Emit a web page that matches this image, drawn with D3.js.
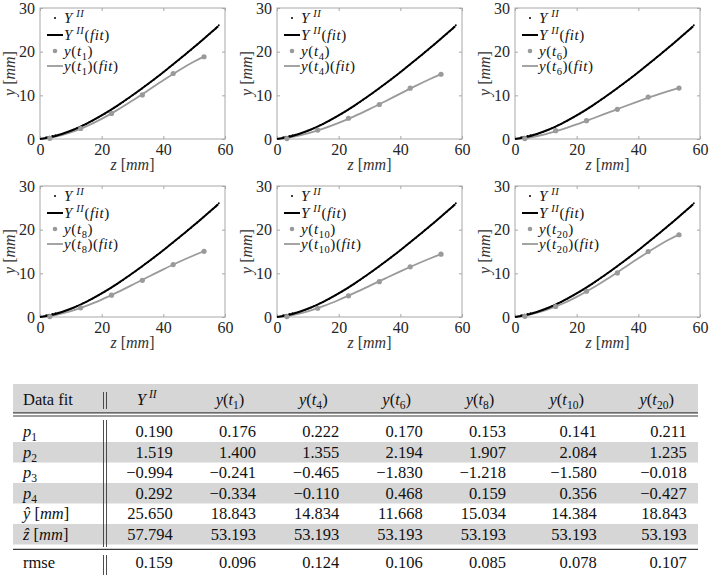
<!DOCTYPE html>
<html><head><meta charset="utf-8">
<script src="https://cdn.jsdelivr.net/npm/d3@7"></script>
<style>
body{margin:0;background:#fff;}
svg, svg text{font-family:"Liberation Serif","DejaVu Serif",serif;}
</style></head>
<body><svg id="c" width="709" height="578" font-family="Liberation Serif, DejaVu Serif, serif"></svg>
<script>
// ---------- DATA ----------
const xTicks = [0, 20, 40, 60];
const yTicks = [0, 10, 20, 30];

// Y^II measured points (black dots)
const yIIz = [2,2.5,3,3.5,4,4.5,5,5.5,6,7,8,9,10,11,12,13,14,15,16,17,18,19,20,21,22,23,24,25,26,27,28,29,30,31,32,33,34,35,36,37,38,39,40,41,42,43,44,45,46,47,48,49,50,51,52,53,54,55,56,57,57.5,58];
const yIIy = [0.40,0.35,0.55,0.50,0.72,0.65,0.90,0.85,1.02,1.15,1.40,1.60,1.92,2.15,2.50,2.78,3.16,3.45,3.86,4.19,4.63,4.98,5.42,5.80,6.28,6.67,7.17,7.58,8.09,8.52,9.05,9.49,10.04,10.48,11.05,11.52,12.10,12.56,13.16,13.63,14.24,14.72,15.33,15.84,16.46,16.96,17.60,18.10,18.76,19.27,19.92,20.44,21.10,21.64,22.31,22.84,23.52,24.06,24.74,25.30,25.70,26.05];

// Y^II fit curve
const fitIIz = [0,5,10,15,20,25,30,35,40,45,50,55,57.794];
const fitIIy = [0,0.70,1.88,3.48,5.40,7.60,10.01,12.59,15.30,18.13,21.07,24.09,25.83];

// y(t_k) sample positions (gray markers)
const markerZ = [3.193, 13.193, 23.193, 33.193, 43.193, 53.193];
const markT1  = [0.15, 2.40, 5.85, 10.10, 15.00, 18.84];
const markT4  = [0.10, 2.05, 4.75, 7.90, 11.65, 14.83];
const markT6  = [0.10, 1.90, 4.20, 6.80, 9.60, 11.67];
const markT8  = [0.10, 2.10, 5.00, 8.40, 12.00, 15.03];
const markT10 = [0.10, 2.00, 4.85, 8.10, 11.50, 14.38];
const markT20 = [0.15, 2.40, 5.90, 10.10, 15.00, 18.84];

// y(t_k) fit curves
const fitZ = [0,5,10,15,20,25,30,35,40,45,50,53.193];
const fitT1  = [0,0.54,1.52,2.89,4.61,6.61,8.81,11.13,13.47,15.71,17.74,18.86];
const fitT4  = [0,0.48,1.28,2.36,3.68,5.19,6.85,8.60,10.39,12.16,13.85,14.86];
const fitT6  = [0,0.40,1.14,2.15,3.34,4.64,5.98,7.33,8.63,9.87,11.01,11.69];
const fitT8  = [0,0.46,1.33,2.53,3.99,5.63,7.37,9.16,10.92,12.60,14.15,15.05];
const fitT10 = [0,0.44,1.30,2.48,3.90,5.47,7.12,8.80,10.45,12.03,13.52,14.40];
const fitT20 = [0,0.58,1.56,2.91,4.61,6.58,8.77,11.09,13.43,15.69,17.74,18.86];

const seriesSubs = ["1","4","6","8","10","20"];
const seriesMarks = [markT1, markT4, markT6, markT8, markT10, markT20];
const seriesFits = [fitT1, fitT4, fitT6, fitT8, fitT10, fitT20];

// table
const tableCols = ["YII","1","4","6","8","10","20"];
const p1 = [0.190, 0.176, 0.222, 0.170, 0.153, 0.141, 0.211];
const p2 = [1.519, 1.400, 1.355, 2.194, 1.907, 2.084, 1.235];
const p3 = [-0.994, -0.241, -0.465, -1.830, -1.218, -1.580, -0.018];
const p4 = [0.292, -0.334, -0.110, 0.468, 0.159, 0.356, -0.427];
const yHat = [25.650, 18.843, 14.834, 11.668, 15.034, 14.384, 18.843];
const zHat = [57.794, 53.193, 53.193, 53.193, 53.193, 53.193, 53.193];
const rmse = [0.159, 0.096, 0.124, 0.106, 0.085, 0.078, 0.107];

// ---------- DRAW ----------
const svg = d3.select("#c");
const FONT = "'Liberation Serif','DejaVu Serif',serif";
const GRAY = "#9a9a9a", AX = "#a8a8a8", TXT = "#262626";

function rich(t, parts, fs){
  t.attr("font-family", FONT);
  let shift = 0;
  parts.forEach(p=>{
    const ts = t.append("tspan").text(p.t);
    const target = p.sup ? -0.42*fs : p.sub ? 0.24*fs : 0;
    if (target - shift !== 0) ts.attr("dy", target - shift);
    shift = target;
    if (p.sup || p.sub) ts.attr("font-size", fs*0.7);
    if (p.it) ts.attr("font-style","italic");
  });
}

const W = 185, H = 131;
const lefts = [40, 277, 515];
const tops = [8, 186];

seriesSubs.forEach((sub, k)=>{
  const left = lefts[k%3], top = tops[Math.floor(k/3)];
  const x = d3.scaleLinear().domain([0,60]).range([left, left+W]);
  const y = d3.scaleLinear().domain([0,30]).range([top+H, top]);
  const g = svg.append("g");

  g.append("rect").attr("x",left).attr("y",top).attr("width",W).attr("height",H)
    .attr("fill","none").attr("stroke",AX).attr("stroke-width",1);

  const ax = g.append("g").attr("transform",`translate(0,${top+H})`)
    .call(d3.axisBottom(x).tickValues(xTicks).tickSizeInner(-3).tickSizeOuter(0).tickPadding(5));
  const ay = g.append("g").attr("transform",`translate(${left},0)`)
    .call(d3.axisLeft(y).tickValues(yTicks).tickSizeInner(-3).tickSizeOuter(0).tickPadding(5));
  const axT = g.append("g").attr("transform",`translate(0,${top})`)
    .call(d3.axisTop(x).tickValues(xTicks).tickSizeInner(-3).tickSizeOuter(0).tickFormat(""));
  const ayR = g.append("g").attr("transform",`translate(${left+W},0)`)
    .call(d3.axisRight(y).tickValues(yTicks).tickSizeInner(-3).tickSizeOuter(0).tickFormat(""));
  [ax,ay,axT,ayR].forEach(a=>{
    a.attr("font-family", FONT).attr("font-size", 16);
    a.select(".domain").remove();
    a.selectAll(".tick line").attr("stroke",AX);
    a.selectAll(".tick text").attr("fill",TXT).attr("font-size",16).attr("font-family",FONT);
  });

  const xl = g.append("text").attr("x",left+W/2).attr("y",top+H+31).attr("text-anchor","middle")
    .attr("font-size",16).attr("fill","#333");
  rich(xl,[{t:"z",it:true},{t:" ["},{t:"mm",it:true},{t:"]"}],16);
  const yl = g.append("text").attr("transform",`translate(${left-25},${top+H/2}) rotate(-90)`)
    .attr("text-anchor","middle").attr("font-size",16).attr("fill","#333");
  rich(yl,[{t:"y",it:true},{t:" ["},{t:"mm",it:true},{t:"]"}],16);

  const line = d3.line().x(d=>x(d[0])).y(d=>y(d[1])).curve(d3.curveCatmullRom);
  g.append("path").datum(fitZ.map((z,i)=>[z, seriesFits[k][i]]))
    .attr("d",line).attr("fill","none").attr("stroke",GRAY).attr("stroke-width",1.8);
  g.append("path").datum(fitIIz.map((z,i)=>[z, fitIIy[i]]))
    .attr("d",line).attr("fill","none").attr("stroke","#000").attr("stroke-width",2);
  g.selectAll(".dot").data(yIIz.map((z,i)=>[z,yIIy[i]])).join("circle")
    .attr("cx",d=>x(d[0])).attr("cy",d=>y(d[1])).attr("r",0.9).attr("fill","#000");
  g.selectAll(".mk").data(markerZ.map((z,i)=>[z, seriesMarks[k][i]])).join("circle")
    .attr("cx",d=>x(d[0])).attr("cy",d=>y(d[1])).attr("r",2.6).attr("fill",GRAY);

  // legend
  const lx0 = left+7, lx1 = left+23, tx = left+24;
  const rows = [top+10, top+27, top+43, top+58];
  g.append("circle").attr("cx",(lx0+lx1)/2).attr("cy",rows[0]).attr("r",1).attr("fill","#000");
  g.append("line").attr("x1",lx0).attr("x2",lx1).attr("y1",rows[1]).attr("y2",rows[1]).attr("stroke","#000").attr("stroke-width",2);
  g.append("circle").attr("cx",(lx0+lx1)/2).attr("cy",rows[2]).attr("r",2.3).attr("fill",GRAY);
  g.append("line").attr("x1",lx0).attr("x2",lx1).attr("y1",rows[3]).attr("y2",rows[3]).attr("stroke",GRAY).attr("stroke-width",1.8);
  const LF = 15;
  const mk = (r, parts)=>{ const t=g.append("text").attr("x",tx).attr("y",r+5).attr("font-size",LF).attr("letter-spacing",0.6).attr("fill","#111"); rich(t,parts,LF); };
  mk(rows[0],[{t:"Y",it:true},{t:" II",it:true,sup:true}]);
  mk(rows[1],[{t:"Y",it:true},{t:" II",it:true,sup:true},{t:"("},{t:"fit",it:true},{t:")"}]);
  mk(rows[2],[{t:"y",it:true},{t:"("},{t:"t",it:true},{t:sub,sub:true},{t:")"}]);
  mk(rows[3],[{t:"y",it:true},{t:"("},{t:"t",it:true},{t:sub,sub:true},{t:")("},{t:"fit",it:true},{t:")"}]);
});

// ---------- TABLE ----------
const tb = svg.append("g").attr("font-family", FONT);
const TL = 13, TR = 698, FS = 16.5;
const colRight = d3.scaleOrdinal().domain(tableCols).range([172.7, 256, 339.3, 422.7, 506, 596.7, 686.7]);
const colCenter = d3.scaleOrdinal().domain(tableCols).range([146.7, 230, 313.3, 396.7, 480, 566.7, 656.7]);
const BAND = "#d6d6d6", RULE = "#3a3a3a";

tb.append("rect").attr("x",TL).attr("y",384).attr("width",TR-TL).attr("height",28).attr("fill",BAND);
const rowsData = [
  {lab:[{t:"p",it:true},{t:"1",sub:true}], v:p1},
  {lab:[{t:"p",it:true},{t:"2",sub:true}], v:p2},
  {lab:[{t:"p",it:true},{t:"3",sub:true}], v:p3},
  {lab:[{t:"p",it:true},{t:"4",sub:true}], v:p4},
  {lab:[{t:"ŷ",it:true},{t:" ["},{t:"mm",it:true},{t:"]"}], v:yHat},
  {lab:[{t:"ẑ",it:true},{t:" ["},{t:"mm",it:true},{t:"]"}], v:zHat}
];
const rowY = d3.scaleBand().domain(d3.range(rowsData.length)).range([421.5, 544.5]);
rowsData.forEach((r,i)=>{
  if (i%2===1) tb.append("rect").attr("x",TL).attr("y",rowY(i)).attr("width",TR-TL).attr("height",rowY.bandwidth()).attr("fill",BAND);
});
tb.append("line").attr("x1",TL).attr("x2",TR).attr("y1",412.8).attr("y2",412.8).attr("stroke",RULE).attr("stroke-width",1.3);
tb.append("line").attr("x1",TL).attr("x2",TR).attr("y1",416).attr("y2",416).attr("stroke",RULE).attr("stroke-width",1.1);
tb.append("line").attr("x1",TL).attr("x2",TR).attr("y1",549.3).attr("y2",549.3).attr("stroke",RULE).attr("stroke-width",1.2);
[[392,409],[420,547],[555,575]].forEach(([a,b])=>{
  [103.5,106.5].forEach(xv=>tb.append("line").attr("x1",xv).attr("x2",xv).attr("y1",a).attr("y2",b).attr("stroke",RULE).attr("stroke-width",0.9));
});

const fmt = d3.format(".3f");
const hy = 405;
tb.append("text").attr("x",23).attr("y",hy).attr("font-size",FS).attr("fill","#111").attr("font-family",FONT).text("Data fit");
tableCols.forEach(c=>{
  const t = tb.append("text").attr("x",colCenter(c)).attr("y",hy).attr("text-anchor","middle").attr("font-size",FS).attr("fill","#111");
  if (c==="YII") rich(t,[{t:"Y",it:true},{t:" II",it:true,sup:true}],FS);
  else rich(t,[{t:"y",it:true},{t:"("},{t:"t",it:true},{t:c,sub:true},{t:")"}],FS);
});
rowsData.forEach((r,i)=>{
  const yy = rowY(i)+rowY.bandwidth()/2+5.5;
  const t = tb.append("text").attr("x",23).attr("y",yy).attr("font-size",FS).attr("fill","#111");
  rich(t, r.lab, FS);
  tableCols.forEach((c,j)=>{
    tb.append("text").attr("x",colRight(c)).attr("y",yy).attr("text-anchor","end").attr("font-size",FS).attr("fill","#111").attr("font-family",FONT).text(fmt(r.v[j]));
  });
});
const ry = 568;
tb.append("text").attr("x",23).attr("y",ry).attr("font-size",FS).attr("fill","#111").attr("font-family",FONT).text("rmse");
tableCols.forEach((c,j)=>{
  tb.append("text").attr("x",colRight(c)).attr("y",ry).attr("text-anchor","end").attr("font-size",FS).attr("fill","#111").attr("font-family",FONT).text(fmt(rmse[j]));
});
</script></body></html>
